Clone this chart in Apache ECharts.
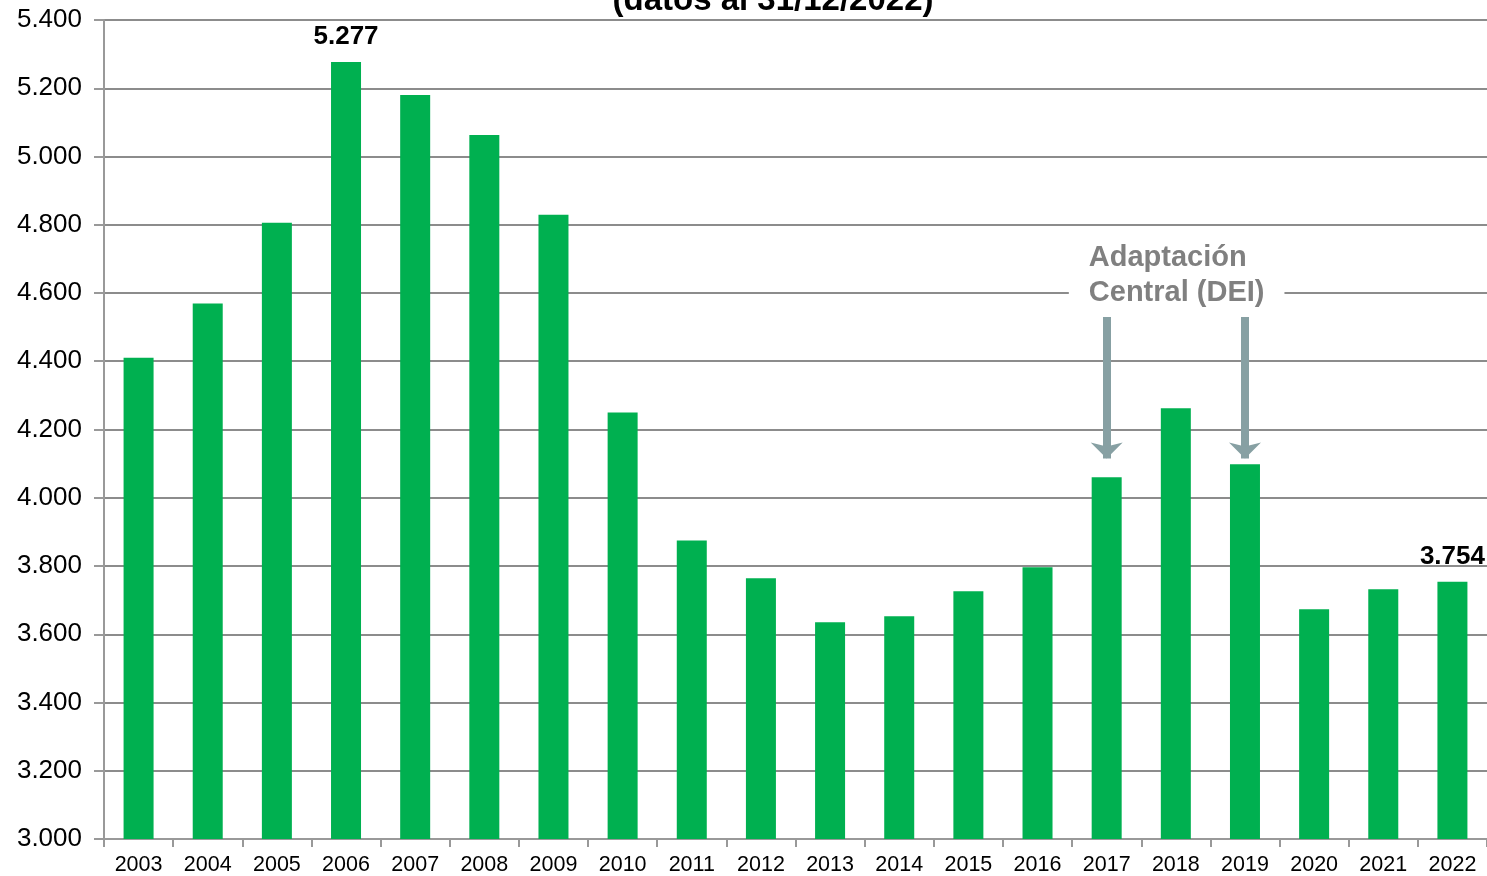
<!DOCTYPE html>
<html>
<head>
<meta charset="utf-8">
<script src="https://cdn.jsdelivr.net/npm/echarts@6/dist/echarts.min.js"></script>
<style>
  html, body { margin: 0; padding: 0; background: #fff; }
  #chart { width: 1487px; height: 876px; }
</style>
</head>
<body>
<div id="chart"></div>
<script>
const years = ['2003', '2004', '2005', '2006', '2007', '2008', '2009', '2010', '2011', '2012',
    '2013', '2014', '2015', '2016', '2017', '2018', '2019', '2020', '2021', '2022'];
const values = [4410, 4569, 4806, 5277, 5180, 5063, 4829, 4250, 3875, 3764,
    3635, 3653, 3726, 3796, 4060, 4262, 4098, 3673, 3732, 3754];
const labelledYears = ['2006', '2022'];
const arrowYears = ['2017', '2019'];
const yTicks = [3000, 5400, 200];

const fmt = v => String(v).replace(/\B(?=(\d{3})+(?!\d))/g, '.');

const chart = echarts.init(document.getElementById('chart'));

const barData = values.map((v, i) => ({
    value: v,
    label: { show: labelledYears.includes(years[i]) }
}));

const option = {
    animation: false,
    textStyle: { fontFamily: 'Liberation Sans, Arial, sans-serif' },
    title: {
        text: '(datos al 31/12/2022)',
        left: 768,
        top: -21,
        textAlign: 'center',
        textStyle: { fontSize: 33, fontWeight: 'bold', color: '#000' }
    },
    grid: { left: 104, right: 0, top: 20, bottom: 36 },
    xAxis: {
        type: 'category',
        data: years,
        axisLine: { lineStyle: { color: '#999', width: 2 } },
        axisTick: { show: true, length: 8, lineStyle: { color: '#999', width: 2 } },
        axisLabel: { color: '#000', fontSize: 21.5, margin: 15 }
    },
    yAxis: {
        type: 'value',
        min: yTicks[0],
        max: yTicks[1],
        interval: yTicks[2],
        axisLine: { show: true, lineStyle: { color: '#999', width: 2 } },
        axisTick: { show: true, length: 10, lineStyle: { color: '#999', width: 2 } },
        axisLabel: { color: '#000', fontSize: 26, margin: 22, formatter: fmt },
        splitLine: { lineStyle: { color: '#8c8c8c', width: 2 } }
    },
    series: [{
        type: 'bar',
        data: barData,
        barWidth: 30,
        itemStyle: { color: '#00b050' },
        label: {
            position: 'top',
            distance: 12,
            fontSize: 26,
            fontWeight: 'bold',
            color: '#000',
            formatter: p => fmt(p.value)
        },
        markLine: {
            silent: true,
            symbol: ['none', 'arrow'],
            symbolSize: [24, 16],
            label: { show: false },
            lineStyle: { color: '#87a0a3', width: 8, type: 'solid' },
            data: arrowYears.map(y => [
                { coord: [y, 4530] },
                { coord: [y, 4115] }
            ])
        },
        markPoint: {
            silent: true,
            symbol: 'circle',
            symbolSize: 0,
            data: [{
                coord: ['2018', 4652],
                label: {
                    show: true,
                    formatter: 'Adaptación\nCentral (DEI)',
                    position: 'inside',
                    align: 'left',
                    verticalAlign: 'middle',
                    offset: [-107, 0],
                    fontSize: 29,
                    fontWeight: 'bold',
                    color: '#808080',
                    lineHeight: 35,
                    backgroundColor: '#fff',
                    padding: [0, 20, 0, 20]
                }
            }]
        }
    }]
};

chart.setOption(option);
</script>
</body>
</html>
